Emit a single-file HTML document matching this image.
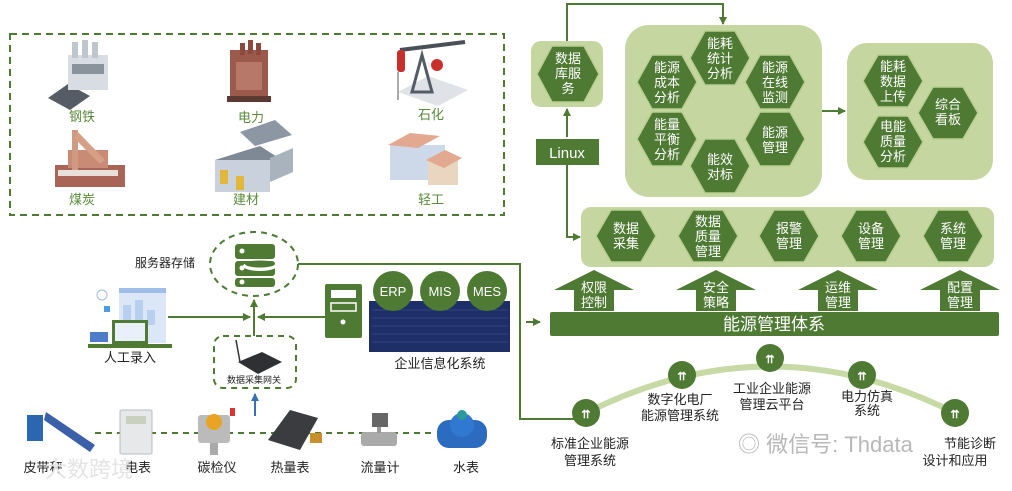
<!DOCTYPE html>
<html><head><meta charset="utf-8"><style>
body{margin:0;width:1012px;height:491px;background:#fff;overflow:hidden}
svg{display:block}
text{font-family:"Liberation Sans","Noto Sans CJK SC",sans-serif}
.hx{fill:#4e7a33;stroke:#b9cf92;stroke-width:1.5}
.ht{fill:#fff;font-size:13px;text-anchor:middle}
.lb{fill:#222;font-size:12px;text-anchor:middle}
.gl{fill:#5a8a3a;font-size:13px;text-anchor:middle}
</style></head><body>
<svg width="1012" height="491" viewBox="0 0 1012 491">
<defs>
<marker id="ar" markerWidth="8" markerHeight="8" refX="7" refY="4" orient="auto" markerUnits="userSpaceOnUse"><path d="M0,0 L8,4 L0,8z" fill="#4e7a33"/></marker>
<marker id="ab" markerWidth="8" markerHeight="8" refX="7" refY="4" orient="auto" markerUnits="userSpaceOnUse"><path d="M0,0 L8,4 L0,8z" fill="#3a6fb5"/></marker>
</defs>

<!-- industry dashed box -->
<rect x="10" y="34" width="494" height="181" fill="none" stroke="#4e7a33" stroke-width="2" stroke-dasharray="7,5"/>
<!-- steel -->
<g><polygon points="48,98 68,84 90,96 70,110" fill="#555c66"/><rect x="68" y="55" width="40" height="35" fill="#d8dde3"/><rect x="72" y="42" width="6" height="16" fill="#bfc6ce"/><rect x="82" y="40" width="6" height="18" fill="#bfc6ce"/><rect x="92" y="42" width="6" height="16" fill="#bfc6ce"/><rect x="72" y="64" width="32" height="10" fill="#8a929c"/></g>
<text class="gl" x="82" y="121">钢铁</text>
<!-- power -->
<g><rect x="230" y="50" width="38" height="50" fill="#9c5a4c"/><rect x="240" y="43" width="5" height="12" fill="#8a4a3e"/><rect x="248" y="40" width="5" height="14" fill="#8a4a3e"/><rect x="256" y="43" width="5" height="12" fill="#8a4a3e"/><rect x="227" y="96" width="44" height="6" fill="#5c3a34"/><rect x="236" y="62" width="26" height="28" fill="#b7786a"/></g>
<text class="gl" x="251" y="122">电力</text>
<!-- petro -->
<g><polygon points="398,92 428,76 468,90 438,106" fill="#dfe3e8"/><polygon points="412,92 422,55 432,92" fill="none" stroke="#555c66" stroke-width="3"/><line x1="400" y1="50" x2="465" y2="42" stroke="#4a5058" stroke-width="4"/><rect x="397" y="50" width="8" height="22" rx="3" fill="#c9302c"/><circle cx="437" cy="65" r="6" fill="#c9302c"/><line x1="398" y1="72" x2="398" y2="100" stroke="#555" stroke-width="1"/></g>
<text class="gl" x="431" y="119">石化</text>
<!-- coal -->
<g><rect x="55" y="165" width="70" height="22" fill="#a86456"/><rect x="68" y="150" width="40" height="18" fill="#c98a76"/><rect x="72" y="130" width="6" height="40" fill="#d09a80"/><polygon points="78,132 105,160 100,164 74,138" fill="#d6a086"/><rect x="58" y="170" width="60" height="6" fill="#e8e0d8"/></g>
<text class="gl" x="82" y="204">煤炭</text>
<!-- building material -->
<g><polygon points="215,160 260,146 285,162 240,176" fill="#7f8996"/><rect x="215" y="160" width="55" height="32" fill="#c9d2dc"/><rect x="220" y="170" width="8" height="14" fill="#e3b83a"/><rect x="236" y="176" width="8" height="14" fill="#e3b83a"/><polygon points="240,132 275,120 292,135 255,146" fill="#8d97a3"/><polygon points="270,158 293,148 293,172 270,182" fill="#a9b3be"/></g>
<text class="gl" x="246" y="204">建材</text>
<!-- light industry -->
<g><rect x="390" y="145" width="55" height="35" fill="#cdd8e8"/><polygon points="388,145 410,133 440,136 418,148" fill="#e3a890"/><rect x="428" y="160" width="30" height="25" fill="#e9d5c0"/><polygon points="426,160 445,150 462,158 444,168" fill="#e3a890"/></g>
<text class="gl" x="431" y="204">轻工</text>

<!-- server storage -->
<ellipse cx="254" cy="264" rx="44" ry="32" fill="none" stroke="#4e7a33" stroke-width="2" stroke-dasharray="6,5"/>
<rect x="235" y="244" width="40" height="15" rx="3" fill="#4e7a33"/>
<rect x="235" y="261" width="40" height="15" rx="3" fill="#4e7a33"/>
<rect x="235" y="278" width="40" height="9" rx="3" fill="#4e7a33"/>
<ellipse cx="260" cy="266" rx="17" ry="5" fill="#fff"/><ellipse cx="260" cy="264" rx="15" ry="3.5" fill="#4e7a33"/>
<circle cx="242" cy="251" r="2.5" fill="#fff"/><circle cx="242" cy="268" r="2.5" fill="#fff"/><circle cx="242" cy="282" r="2.5" fill="#fff"/>
<text x="135" y="267" style="font-size:12px;fill:#222">服务器存储</text>
<!-- line server to right then down -->
<polyline points="298,264 520,264 520,419 576,419" fill="none" stroke="#4e7a33" stroke-width="2"/>

<!-- manual entry -->
<rect x="119" y="288" width="47" height="55" fill="#dbe7f7"/>
<rect x="119" y="288" width="47" height="5" fill="#9fbde8"/>
<rect x="123" y="305" width="8" height="20" fill="#b8cff0"/><rect x="135" y="300" width="8" height="25" fill="#b8cff0"/><rect x="147" y="310" width="8" height="15" fill="#b8cff0"/>
<circle cx="102" cy="295" r="5" fill="none" stroke="#9fbde8"/>
<rect x="104" y="306" width="6" height="6" fill="#4d9be0"/>
<rect x="112" y="320" width="36" height="24" fill="#4e7a33"/><rect x="115" y="323" width="30" height="18" fill="#e9f0fb"/>
<rect x="90" y="332" width="18" height="10" fill="#4d7cc9"/>
<rect x="88" y="344" width="84" height="4" fill="#4e7a33"/>
<text class="lb" x="130" y="362" style="font-size:13px">人工录入</text>
<line x1="168" y1="317" x2="250" y2="317" stroke="#4e7a33" stroke-width="2" marker-end="url(#ar)"/>
<line x1="325" y1="317" x2="258" y2="317" stroke="#4e7a33" stroke-width="2" marker-end="url(#ar)"/>
<line x1="254" y1="336" x2="254" y2="300" stroke="#4e7a33" stroke-width="2" marker-end="url(#ar)"/>

<!-- gateway -->
<rect x="214" y="336" width="82" height="52" rx="9" fill="none" stroke="#4e7a33" stroke-width="2" stroke-dasharray="6,5"/>
<line x1="236" y1="340" x2="240" y2="362" stroke="#333" stroke-width="1.5"/>
<polygon points="238,362 262,352 282,362 258,374" fill="#2e3034"/>
<text x="254" y="383" style="font-size:9px;fill:#222;text-anchor:middle">数据采集网关</text>
<line x1="255" y1="416" x2="255" y2="394" stroke="#3a6fb5" stroke-width="2" marker-end="url(#ab)"/>

<!-- enterprise -->
<rect x="325" y="284" width="37" height="54" rx="2" fill="#4e7a33"/>
<rect x="331" y="290" width="25" height="8" fill="#fff"/><rect x="331" y="303" width="25" height="8" fill="#4e7a33" stroke="#fff" stroke-width="1.5"/>
<circle cx="343" cy="322" r="2.5" fill="#fff"/>
<rect x="369" y="301" width="141" height="51" fill="#1d2f66"/>
<g stroke="#4a5f9a" stroke-width="0.6">
<line x1="372" y1="310" x2="508" y2="310"/><line x1="372" y1="318" x2="508" y2="318"/><line x1="372" y1="326" x2="508" y2="326"/><line x1="372" y1="334" x2="508" y2="334"/><line x1="372" y1="342" x2="508" y2="342"/></g>
<circle cx="393" cy="291" r="20" fill="#4e7a33"/><circle cx="440" cy="291" r="20" fill="#4e7a33"/><circle cx="487" cy="291" r="20" fill="#4e7a33"/>
<text x="393" y="296" style="font-size:13px;fill:#fff;text-anchor:middle">ERP</text>
<text x="440" y="296" style="font-size:13px;fill:#fff;text-anchor:middle">MIS</text>
<text x="487" y="296" style="font-size:13px;fill:#fff;text-anchor:middle">MES</text>
<text class="lb" x="440" y="368" style="font-size:13px">企业信息化系统</text>

<!-- instruments -->
<line x1="95" y1="433" x2="435" y2="433" stroke="#4e7a33" stroke-width="2" stroke-dasharray="6,5"/>
<rect x="27" y="415" width="16" height="26" fill="#2a67b0"/><polygon points="46,412 95,445 90,452 44,420" fill="#3b5fa8"/>
<rect x="120" y="410" width="32" height="44" rx="2" fill="#e6e8ea" stroke="#bbb"/><rect x="126" y="416" width="20" height="8" fill="#c9d0c0"/>
<rect x="198" y="415" width="32" height="28" rx="3" fill="#bbb"/><circle cx="214" cy="422" r="8" fill="#e8a422"/><rect x="210" y="443" width="8" height="12" fill="#aaa"/><rect x="230" y="408" width="5" height="8" fill="#d33"/>
<polygon points="268,440 290,410 318,418 300,450" fill="#3a3c40"/><rect x="310" y="433" width="12" height="10" fill="#c8902a"/>
<rect x="372" y="413" width="16" height="14" fill="#666"/><rect x="361" y="432" width="36" height="14" rx="3" fill="#aaa"/><rect x="377" y="427" width="4" height="6" fill="#999"/>
<rect x="437" y="420" width="50" height="28" rx="12" fill="#2b6cc0"/><circle cx="462" cy="425" r="12" fill="#3178d0"/><circle cx="462" cy="415" r="5" fill="#2a9a9a"/>
<text class="lb" x="43" y="472" style="font-size:13px">皮带秤</text>
<text class="lb" x="138" y="472" style="font-size:13px">电表</text>
<text class="lb" x="217" y="472" style="font-size:13px">碳检仪</text>
<text class="lb" x="290" y="472" style="font-size:13px">热量表</text>
<text class="lb" x="380" y="472" style="font-size:13px">流量计</text>
<text class="lb" x="466" y="472" style="font-size:13px">水表</text>
<text x="45" y="477" style="font-size:22px;fill:#e4e4e4">大数跨境</text>

<!-- right top -->
<polyline points="567,41 567,4 723,4 723,24" fill="none" stroke="#4e7a33" stroke-width="2" marker-end="url(#ar)"/>
<rect x="531" y="41" width="72" height="66" rx="10" fill="#c5d6a1"/>
<polygon class="hx" points="537,74 552,46 584,46 599,74 584,102 552,102"/>
<text class="ht" x="568" y="63">数据</text><text class="ht" x="568" y="78">库服</text><text class="ht" x="568" y="93">务</text>
<line x1="567" y1="137" x2="567" y2="109" stroke="#4e7a33" stroke-width="2" marker-end="url(#ar)"/>
<polyline points="567,165 567,237 580,237" fill="none" stroke="#4e7a33" stroke-width="2" marker-end="url(#ar)"/>
<rect x="536" y="139" width="63" height="26" fill="#4e7a33"/>
<text x="567" y="158" style="font-size:15px;fill:#fff;text-anchor:middle">Linux</text>

<rect x="625" y="25" width="197" height="172" rx="24" fill="#c5d6a1"/>
<g id="big"></g>
<polygon class="hx" points="690,58 705,31 735,31 750,58 735,85 705,85"/>
<text class="ht" x="720" y="48">能耗</text><text class="ht" x="720" y="63">统计</text><text class="ht" x="720" y="78">分析</text>
<polygon class="hx" points="637,82 652,55 682,55 697,82 682,109 652,109"/>
<text class="ht" x="667" y="72">能源</text><text class="ht" x="667" y="87">成本</text><text class="ht" x="667" y="102">分析</text>
<polygon class="hx" points="745,82 760,55 790,55 805,82 790,109 760,109"/>
<text class="ht" x="775" y="72">能源</text><text class="ht" x="775" y="87">在线</text><text class="ht" x="775" y="102">监测</text>
<polygon class="hx" points="637,139 652,112 682,112 697,139 682,166 652,166"/>
<text class="ht" x="667" y="129">能量</text><text class="ht" x="667" y="144">平衡</text><text class="ht" x="667" y="159">分析</text>
<polygon class="hx" points="745,139 760,112 790,112 805,139 790,166 760,166"/>
<text class="ht" x="775" y="137">能源</text><text class="ht" x="775" y="152">管理</text>
<polygon class="hx" points="690,166 705,139 735,139 750,166 735,193 705,193"/>
<text class="ht" x="720" y="164">能效</text><text class="ht" x="720" y="179">对标</text>

<line x1="822" y1="111" x2="845" y2="111" stroke="#4e7a33" stroke-width="2" marker-end="url(#ar)"/>
<rect x="847" y="43" width="146" height="137" rx="20" fill="#c5d6a1"/>
<polygon class="hx" points="863,81 878,55 908,55 923,81 908,107 878,107"/>
<text class="ht" x="893" y="71">能耗</text><text class="ht" x="893" y="86">数据</text><text class="ht" x="893" y="101">上传</text>
<polygon class="hx" points="863,142 878,116 908,116 923,142 908,168 878,168"/>
<text class="ht" x="893" y="131">电能</text><text class="ht" x="893" y="146">质量</text><text class="ht" x="893" y="161">分析</text>
<polygon class="hx" points="918,113 933,87 963,87 978,113 963,139 933,139"/>
<text class="ht" x="948" y="109">综合</text><text class="ht" x="948" y="124">看板</text>

<rect x="581" y="207" width="413" height="60" rx="10" fill="#c5d6a1"/>
<polygon class="hx" points="596,236 611,210 641,210 656,236 641,262 611,262"/>
<text class="ht" x="626" y="233">数据</text><text class="ht" x="626" y="248">采集</text>
<polygon class="hx" points="678,236 693,210 723,210 738,236 723,262 693,262"/>
<text class="ht" x="708" y="226">数据</text><text class="ht" x="708" y="241">质量</text><text class="ht" x="708" y="256">管理</text>
<polygon class="hx" points="759,236 774,210 804,210 819,236 804,262 774,262"/>
<text class="ht" x="789" y="233">报警</text><text class="ht" x="789" y="248">管理</text>
<polygon class="hx" points="841,236 856,210 886,210 901,236 886,262 856,262"/>
<text class="ht" x="871" y="233">设备</text><text class="ht" x="871" y="248">管理</text>
<polygon class="hx" points="923,236 938,210 968,210 983,236 968,262 938,262"/>
<text class="ht" x="953" y="233">系统</text><text class="ht" x="953" y="248">管理</text>

<!-- up arrows -->
<g fill="#4e7a33">
<polygon points="554,290 594,270 634,290 614,290 614,311 574,311 574,290"/>
<polygon points="676,290 716,270 756,290 736,290 736,311 696,311 696,290"/>
<polygon points="798,290 838,270 878,290 858,290 858,311 818,311 818,290"/>
<polygon points="920,290 960,270 1000,290 980,290 980,311 940,311 940,290"/>
</g>
<text class="ht" x="594" y="292">权限</text><text class="ht" x="594" y="307">控制</text>
<text class="ht" x="716" y="292">安全</text><text class="ht" x="716" y="307">策略</text>
<text class="ht" x="838" y="292">运维</text><text class="ht" x="838" y="307">管理</text>
<text class="ht" x="960" y="292">配置</text><text class="ht" x="960" y="307">管理</text>
<rect x="550" y="312" width="449" height="24" rx="2" fill="#4e7a33"/>
<text x="774" y="330" style="font-size:17px;fill:#fff;text-anchor:middle">能源管理体系</text>
<line x1="526" y1="322" x2="540" y2="322" stroke="#4e7a33" stroke-width="2" marker-end="url(#ar)"/>

<!-- arc -->
<path d="M586,413 Q770,320 955,413" fill="none" stroke="#c7daa6" stroke-width="6"/>
<g fill="#4e7a33">
<circle cx="586" cy="413" r="14"/><circle cx="682" cy="375" r="14"/><circle cx="770" cy="358" r="14"/><circle cx="862" cy="375" r="14"/><circle cx="955" cy="413" r="14"/></g>
<g fill="#fff" font-size="11" text-anchor="middle" font-weight="bold">
<text x="586" y="418">⇈</text><text x="682" y="380">⇈</text><text x="770" y="363">⇈</text><text x="862" y="380">⇈</text><text x="955" y="418">⇈</text></g>
<text class="lb" x="590" y="448" style="font-size:13px">标准企业能源</text><text class="lb" x="590" y="465" style="font-size:13px">管理系统</text>
<text class="lb" x="680" y="404" style="font-size:13px">数字化电厂</text><text class="lb" x="680" y="420" style="font-size:13px">能源管理系统</text>
<text class="lb" x="772" y="393" style="font-size:13px">工业企业能源</text><text class="lb" x="772" y="409" style="font-size:13px">管理云平台</text>
<text class="lb" x="867" y="401" style="font-size:13px">电力仿真</text><text class="lb" x="867" y="415" style="font-size:13px">系统</text>
<text class="lb" x="970" y="448" style="font-size:13px">节能诊断</text><text class="lb" x="955" y="465" style="font-size:13px">设计和应用</text>
<text x="738" y="452" style="font-size:22px;fill:#b8b8b8">◎ 微信号: Thdata</text>
</svg>
</body></html>
